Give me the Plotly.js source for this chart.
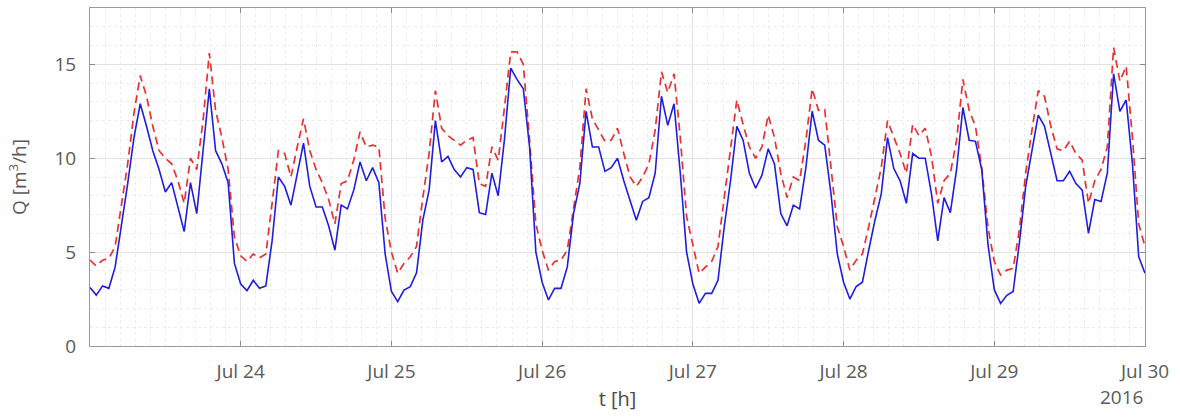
<!DOCTYPE html>
<html>
<head>
<meta charset="utf-8">
<script src="https://cdn.plot.ly/plotly-3.0.1.min.js"></script>
<style>
html,body{margin:0;padding:0;background:#fff;}
#chart{width:1180px;height:418px;}
</style>
</head>
<body>
<div id="chart"></div>
<script>
// Hourly flow values, 2016-07-23 00:00 .. 2016-07-30 00:00
var startTime = '2016-07-23T00:00:00';

var measured = [
  // Jul 23
  3.12, 2.71, 3.2, 3.07, 4.2, 6.35, 8.65, 11.1, 12.9, 11.7, 10.4, 9.4, 8.2, 8.7, 7.4, 6.1, 8.7, 7.05, 10.4, 13.7, 10.4, 9.7, 8.7, 4.4,
  // Jul 24
  3.3, 2.95, 3.5, 3.07, 3.2, 5.6, 9.0, 8.5, 7.5, 9.2, 10.8, 8.5, 7.4, 7.4, 6.4, 5.1, 7.5, 7.3, 8.3, 9.8, 8.8, 9.5, 8.7, 4.9,
  // Jul 25
  2.9, 2.36, 2.98, 3.16, 3.9, 6.7, 8.3, 12.0, 9.8, 10.1, 9.4, 9.0, 9.5, 9.4, 7.1, 7.0, 9.2, 8.0, 11.0, 14.8, 14.2, 13.7, 10.6, 5.0,
  // Jul 26
  3.4, 2.45, 3.07, 3.07, 4.2, 7.05, 8.65, 12.5, 10.6, 10.6, 9.3, 9.5, 10.0, 8.8, 7.8, 6.7, 7.7, 7.9, 9.2, 13.3, 11.75, 12.9, 9.2, 5.0,
  // Jul 27
  3.3, 2.27, 2.8, 2.8, 3.5, 6.35, 8.8, 11.7, 10.96, 9.2, 8.4, 9.1, 10.5, 9.7, 7.05, 6.4, 7.5, 7.3, 9.5, 12.5, 10.96, 10.7, 8.1, 4.9,
  // Jul 28
  3.4, 2.5, 3.16, 3.4, 5.1, 6.7, 8.1, 11.1, 9.45, 8.8, 7.6, 10.25, 10.0, 10.0, 8.1, 5.6, 7.9, 7.1, 9.4, 12.7, 10.96, 10.9, 9.4, 5.4,
  // Jul 29
  3.0, 2.27, 2.7, 2.9, 5.5, 8.5, 10.4, 12.3, 11.7, 10.2, 8.8, 8.8, 9.3, 8.65, 8.3, 6.0, 7.8, 7.7, 9.2, 14.5, 12.5, 13.1, 9.7, 4.75,
  // Jul 30 00:00
  3.87
];

var upper = [
  // Jul 23
  4.57, 4.26, 4.57, 4.66, 5.3, 7.4, 9.7, 12.4, 14.4, 13.3, 11.7, 10.4, 10.0, 9.7, 8.8, 7.6, 10.0, 9.4, 12.0, 15.6, 12.55, 11.1, 9.4, 5.8,
  // Jul 24
  4.8, 4.5, 4.9, 4.7, 4.9, 7.6, 10.4, 10.25, 9.0, 10.6, 12.1, 10.4, 9.4, 8.7, 7.8, 6.5, 8.65, 8.8, 9.9, 11.4, 10.6, 10.7, 10.6, 6.8,
  // Jul 25
  5.0, 3.87, 4.4, 4.75, 5.3, 7.9, 10.25, 13.6, 11.6, 11.2, 10.96, 10.7, 10.96, 11.1, 8.65, 8.5, 10.6, 9.9, 12.7, 15.66, 15.66, 15.0, 10.96, 6.5,
  // Jul 26
  5.1, 4.04, 4.5, 4.57, 5.1, 7.4, 9.5, 13.7, 12.1, 11.5, 10.9, 10.96, 11.6, 10.25, 9.0, 8.5, 9.0, 9.7, 11.5, 14.6, 13.5, 14.5, 11.1, 6.9,
  // Jul 27
  5.3, 3.87, 4.2, 4.5, 5.3, 7.9, 10.4, 13.1, 11.8, 10.6, 10.0, 10.6, 12.3, 11.1, 9.2, 7.9, 9.0, 8.8, 10.96, 13.7, 12.55, 12.6, 9.5, 6.35,
  // Jul 28
  5.3, 4.04, 4.57, 4.9, 6.35, 7.9, 9.5, 12.0, 11.1, 10.25, 9.2, 11.8, 11.2, 11.6, 10.1, 7.6, 8.8, 9.2, 10.96, 14.2, 12.55, 11.7, 9.5, 6.3,
  // Jul 29
  4.5, 3.78, 4.04, 4.13, 6.2, 9.2, 11.5, 13.6, 13.3, 11.7, 10.5, 10.4, 10.9, 10.25, 9.9, 7.6, 8.8, 9.4, 10.6, 15.9, 14.1, 14.9, 11.1, 6.5,
  // Jul 30 00:00
  5.3
];

var tickDates = ['2016-07-24', '2016-07-25', '2016-07-26', '2016-07-27', '2016-07-28', '2016-07-29', '2016-07-30'];
var tickLabels = ['Jul 24', 'Jul 25', 'Jul 26', 'Jul 27', 'Jul 28', 'Jul 29', 'Jul 30'];
var yTicks = [0, 5, 10, 15];
var yearLabel = '2016';

// hourly time stamps
var t0 = new Date(startTime + 'Z').getTime();
function stamp(i) {
  var d = new Date(t0 + i * 3600000);
  return d.toISOString().slice(0, 19).replace('T', ' ');
}
var times = measured.map(function (_, i) { return stamp(i); });

var font = 'Open Sans, Lato, sans-serif';

var traces = [
  {
    x: times, y: upper, type: 'scatter', mode: 'lines',
    line: {color: 'rgb(232,50,50)', width: 1.7, dash: '8px,5px'},
    hoverinfo: 'skip', showlegend: false
  },
  {
    x: times, y: measured, type: 'scatter', mode: 'lines',
    line: {color: 'rgb(30,30,220)', width: 1.6},
    hoverinfo: 'skip', showlegend: false
  }
];

var layout = {
  width: 1180, height: 418,
  margin: {l: 90, r: 35, t: 8, b: 72},
  paper_bgcolor: '#ffffff',
  plot_bgcolor: '#ffffff',
  showlegend: false,
  font: {family: font, size: 19, color: '#5a5a5a'},
  xaxis: {
    type: 'date',
    range: ['2016-07-23 00:00:00', '2016-07-30 00:00:00'],
    tickmode: 'array',
    tickvals: tickDates,
    ticktext: tickLabels,
    ticks: 'inside', ticklen: 5, tickwidth: 1, tickcolor: '#8a8a8a',
    showline: true, linecolor: '#9a9a9a', linewidth: 1, mirror: 'ticks',
    showgrid: true, gridcolor: '#e2e2e2', gridwidth: 1,
    minor: {dtick: 8640000, showgrid: true, gridcolor: '#ececec', griddash: 'dot', gridwidth: 1, ticks: ''},
    zeroline: false,
    tickfont: {family: font, size: 19, color: '#5a5a5a'},
    ticklabelstandoff: 8,
    title: {text: 't [h]', font: {family: font, size: 20, color: '#4a4a4a'}, standoff: 9}
  },
  yaxis: {
    range: [0, 18],
    tickmode: 'array',
    tickvals: yTicks,
    ticktext: yTicks.map(String),
    ticks: 'inside', ticklen: 5, tickwidth: 1, tickcolor: '#8a8a8a',
    showline: true, linecolor: '#9a9a9a', linewidth: 1, mirror: 'ticks',
    showgrid: true, gridcolor: '#e2e2e2', gridwidth: 1,
    minor: {dtick: 1, showgrid: true, gridcolor: '#ececec', griddash: 'dot', gridwidth: 1, ticks: ''},
    zeroline: false,
    tickfont: {family: font, size: 19, color: '#5a5a5a'},
    ticklabelstandoff: 9,
    title: {text: 'Q [m<sup>3</sup>/h]', font: {family: font, size: 19, color: '#5a5a5a'}, standoff: 22}
  },
  annotations: [
    {
      text: yearLabel, xref: 'paper', yref: 'paper', x: 1.0, y: -0.151,
      xanchor: 'right', yanchor: 'middle', showarrow: false,
      font: {family: font, size: 19, color: '#5a5a5a'}
    }
  ]
};

Plotly.newPlot('chart', traces, layout, {staticPlot: true, displayModeBar: false});
</script>
</body>
</html>
